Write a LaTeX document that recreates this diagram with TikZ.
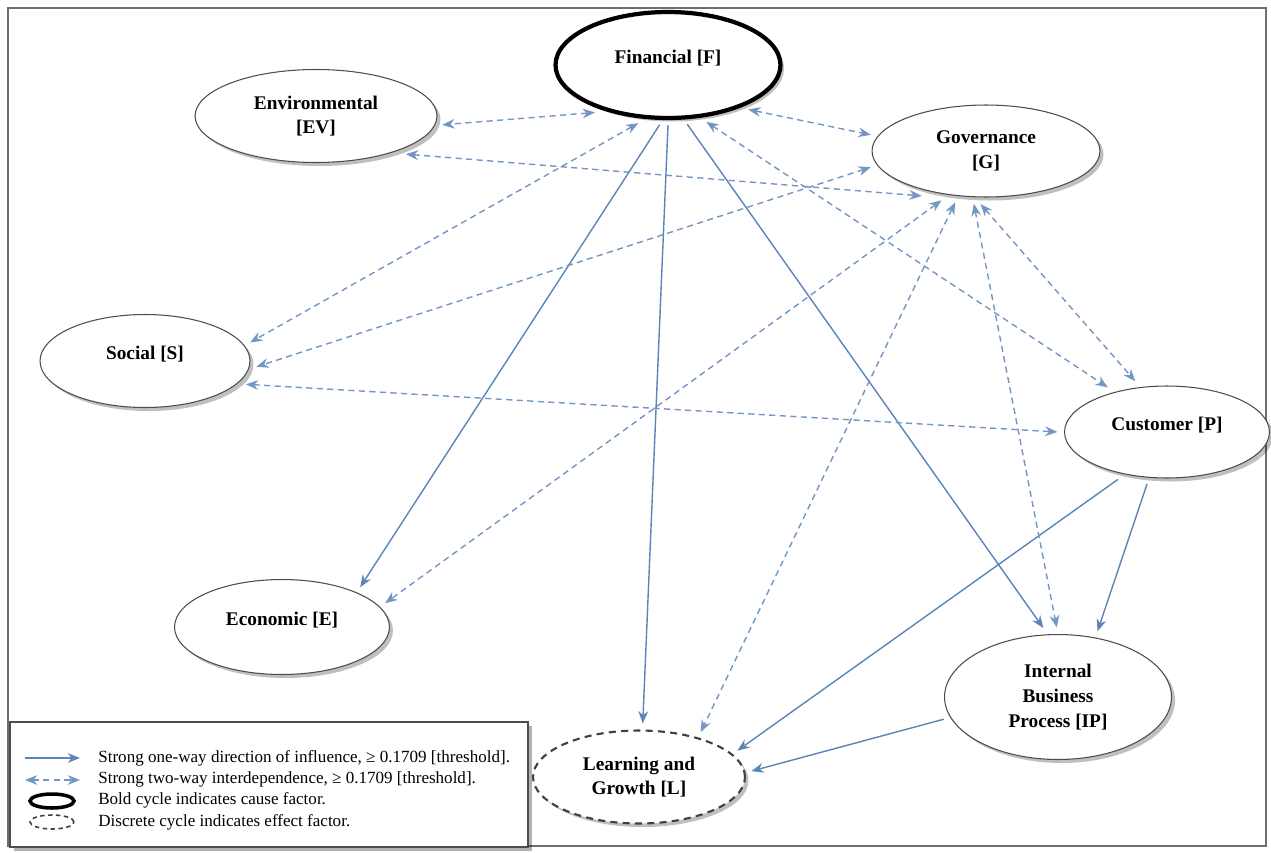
\documentclass[tikz,border=0pt]{standalone}
\usepackage{fontspec}
\setmainfont{Liberation Serif}
\usetikzlibrary{shapes.geometric,arrows.meta,shadows}

\definecolor{linkblue}{HTML}{5B84B8}
\definecolor{framegray}{HTML}{6E6E6E}

\tikzset{
  factor/.style={ellipse, draw=black!70, line width=0.6pt, fill=white, outer sep=4pt,
    align=center, font=\fontsize{11}{14}\selectfont\bfseries,
    drop shadow={shadow xshift=2pt, shadow yshift=-2pt, fill=black, opacity=0.25}},
  oneline/.style={text depth=9pt},
  cause/.style={factor, draw=black, line width=2.4pt},
  effect/.style={factor, draw=black!75, line width=1.2pt, dash pattern=on 4pt off 3pt},
  oneway/.style={draw=linkblue, line width=0.8pt, -{Stealth[length=7pt,width=5.5pt]}},
  twoway/.style={draw=linkblue!85, line width=0.8pt, dash pattern=on 3.5pt off 2.5pt,
    {Stealth[length=7pt,width=5.5pt]}-{Stealth[length=7pt,width=5.5pt]}},
  keytext/.style={anchor=west, inner sep=0pt, font=\fontsize{9.7}{12}\selectfont},
}

\begin{document}
\begin{tikzpicture}[x=0.02cm, y=-0.02cm]
\useasboundingbox (0,0) rectangle (1271,852);
\draw[framegray, line width=1.2pt] (8,8) rectangle (1266,846);

% factors
\node[cause, oneline, minimum width=4.5cm, minimum height=2.12cm] (F) at (668,65) {Financial [F]};
\node[factor, minimum width=4.84cm, minimum height=1.86cm] (EV) at (316,116) {Environmental\\ {[EV]}};
\node[factor, minimum width=4.56cm, minimum height=1.84cm] (G) at (986,151) {Governance\\ {[G]}};
\node[factor, oneline, minimum width=4.2cm, minimum height=1.86cm] (S) at (145,361) {Social [S]};
\node[factor, oneline, minimum width=4.1cm, minimum height=1.84cm] (P) at (1167,432) {Customer [P]};
\node[factor, oneline, minimum width=4.3cm, minimum height=1.9cm] (E) at (282,627) {Economic [E]};
\node[factor, minimum width=4.54cm, minimum height=2.5cm] (IP) at (1058,697) {Internal\\ Business\\ Process [IP]};
\node[effect, minimum width=4.24cm, minimum height=1.86cm] (L) at (639,777) {Learning and\\ Growth [L]};

% one-way influence
\draw[oneway] (F.262) -- (E.27);
\draw[oneway] (F.270) -- (L.86);
\draw[oneway] (F.288) -- (IP.102);
\draw[oneway] (P.224) -- (L.15);
\draw[oneway] (P.249) -- (IP.59);
\draw[oneway] (IP.191) -- (L.3);

% two-way interdependence
\draw[twoway] (F.213) -- (EV.356);
\draw[twoway] (F.331) -- (G.172);
\draw[twoway] (EV.337) -- (G.215);
\draw[twoway] (F.243) -- (S.10);
\draw[twoway] (G.188) -- (S.357);
\draw[twoway] (S.347) -- (P.180);
\draw[twoway] (F.304) -- (P.143);
\draw[twoway] (G.264) -- (P.122);
\draw[twoway] (G.228) -- (E.13);
\draw[twoway] (G.239) -- (L.36);
\draw[twoway] (G.257) -- (IP.91);

% key
\filldraw[draw=black!70, line width=1pt, fill=white,
  drop shadow={shadow xshift=2pt, shadow yshift=-2pt, fill=black, opacity=0.3}]
  (10,722) rectangle (528,847);
\coordinate (k1a) at (25,758); \coordinate (k1b) at (80,758);
\coordinate (k2a) at (25,780); \coordinate (k2b) at (80,780);
\draw[oneway] (k1a) -- (k1b);
\draw[twoway] (k2a) -- (k2b);
\node[ellipse, draw=black, line width=2pt, minimum width=0.88cm, minimum height=0.28cm, inner sep=0pt] (kcause) at (52,801) {};
\node[ellipse, draw=black!75, line width=0.9pt, dash pattern=on 2.5pt off 2pt, minimum width=0.88cm, minimum height=0.28cm, inner sep=0pt] (keffect) at (52,822) {};
\node[keytext] (t1) at (98,758) {Strong one-way direction of influence, ≥ 0.1709 [threshold].};
\node[keytext] (t2) at (98,779) {Strong two-way interdependence, ≥ 0.1709 [threshold].};
\node[keytext] (t3) at (98,800) {Bold cycle indicates cause factor.};
\node[keytext] (t4) at (98,822) {Discrete cycle indicates effect factor.};
\end{tikzpicture}
\end{document}
